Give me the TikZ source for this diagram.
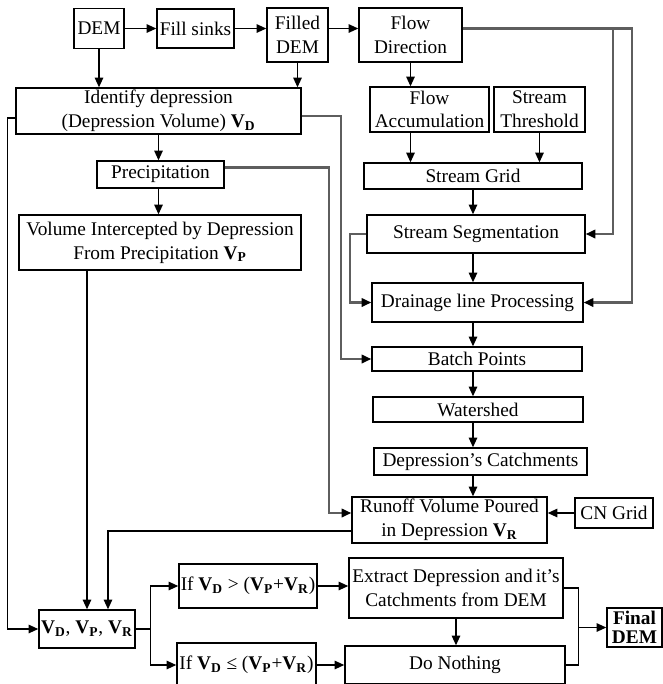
\documentclass[tikz,border=0pt]{standalone}
\usepackage{fontspec}
\setmainfont{Liberation Serif}
\usetikzlibrary{arrows.meta,calc}
\definecolor{linegrey}{HTML}{5E5E5E}
\newcommand{\vsub}[1]{\textbf{V}\textsubscript{\textbf{#1}}}
\tikzset{
  blk/.style      = {draw=black, line width=0.8pt, fill=white, align=center,
                     inner sep=0pt, font=\fontsize{11}{13.5}\selectfont},
  sz/.style 2 args = {minimum width=#1*0.02cm, minimum height=#2*0.02cm},
  flow/.style     = {-{Triangle[length=5.5pt,width=4.8pt]}, draw=black, line width=0.8pt},
  flowgrey/.style = {-{Triangle[length=5.5pt,width=4.8pt,color=black]}, draw=linegrey, line width=1.2pt},
  wire/.style     = {draw=black, line width=0.8pt},
}

\begin{document}
\begin{tikzpicture}[x=0.02cm, y=-0.02cm]
  \useasboundingbox (0,0) rectangle (663,684);
  % top row
  \node[blk, sz={50}{40}] (dem) at (99,28.5) {DEM};
  \node[blk, sz={77}{39}] (fill) at (195.5,28.5) {Fill sinks};
  \node[blk, sz={61}{54}] (filled) at (297.5,35) {Filled\\DEM};
  \node[blk, sz={103}{54}] (flowdir) at (410.5,35) {Flow\\Direction};
  % left branch
  \node[blk, sz={285}{46}] (identify) at (158.5,111) {Identify depression\\(Depression Volume) \vsub{D}};
  \node[blk, sz={127}{27}] (precip) at (160.5,174.5) {Precipitation};
  \node[blk, sz={282}{55}] (volint) at (160,242.5) {Volume Intercepted by Depression\\From Precipitation \vsub{P}};
  % right branch
  \node[blk, sz={119}{45}] (flowacc) at (429.5,109.5) {Flow\\Accumulation};
  \node[blk, sz={91}{45}] (thresh) at (539.5,109.5) {Stream\\Threshold};
  \node[blk, sz={218}{26}] (sgrid) at (473,176) {Stream Grid};
  \node[blk, sz={218}{38}] (sseg) at (476,234) {Stream Segmentation};
  \node[blk, sz={211}{39}] (drain) at (477.5,302.5) {Drainage line Processing};
  \node[blk, sz={210}{24}] (batch) at (477,359) {Batch Points};
  \node[blk, sz={210}{25}] (wshed) at (478,409.5) {Watershed};
  \node[blk, sz={213}{27}] (catch) at (480.5,461.5) {Depression’s Catchments};
  \node[blk, sz={195}{46}] (runoff) at (449.5,520) {Runoff Volume Poured\\in Depression \vsub{R}};
  \node[blk, sz={78}{30}] (cngrid) at (614,513) {CN Grid};
  % decision part
  \node[blk, sz={96}{38}] (vbox) at (87,629) {\vsub{D}, \vsub{P}, \vsub{R}};
  \node[blk, sz={138}{44}] (ifgt) at (248,586) {If \vsub{D} > (\vsub{P}+\vsub{R})};
  \node[blk, sz={139}{44}] (ifle) at (246.5,665) {If \vsub{D} ≤ (\vsub{P}+\vsub{R})};
  \node[blk, sz={214}{60}] (extract) at (456,588) {Extract Depression and\,it’s\\Catchments from DEM};
  \node[blk, sz={220}{38}] (nothing) at (455,665) {Do Nothing};
  \node[blk, sz={55}{39}, font=\fontsize{11}{11}\selectfont\bfseries] (final) at (634.5,627.5) {Final\\DEM};

  \coordinate (busA) at (632,28.5);
  \coordinate (busB) at (613,28.5);

  % top row links
  \draw[flow] (dem.east) -- (dem.east -| fill.west);
  \draw[flow] (fill.east) -- (fill.east -| filled.west);
  \draw[flow] (fill.east -| filled.east) -- (fill.east -| flowdir.west);
  \draw[flow] (dem.south) -- (dem.south |- identify.north);
  \draw[flow] (filled.south) -- (filled.south |- identify.north);
  \draw[flow] (flowdir.south) -- (flowdir.south |- flowacc.north);
  \draw[flowgrey] (fill.east -| flowdir.east) -- (busA) |- (drain.east);
  \draw[flowgrey] (busB) |- (sseg.east);
  % stream chain
  \draw[flow] (flowdir.south |- flowacc.south) -- (flowdir.south |- sgrid.north);
  \draw[flow] (thresh.south) -- (thresh.south |- sgrid.north);
  \draw[flow] (sgrid.south) -- (sgrid.south |- sseg.north);
  \draw[flow] (sgrid.south |- sseg.south) -- (sgrid.south |- drain.north);
  \draw[flowgrey] (sseg.west) -- ++(-16,0) |- (drain.west);
  \draw[flow] (sgrid.south |- drain.south) -- (sgrid.south |- batch.north);
  \draw[flowgrey] ([yshift=-0.1cm]identify.east) -- ++(39,0) |- (batch.west);
  \draw[flow] (sgrid.south |- batch.south) -- (sgrid.south |- wshed.north);
  \draw[flow] (sgrid.south |- wshed.south) -- (sgrid.south |- catch.north);
  \draw[flow] (sgrid.south |- catch.south) -- (sgrid.south |- runoff.north);
  \draw[flow] (cngrid.west) -- (cngrid.west -| runoff.east);
  % left chain
  \draw[flow] (identify.south) -- (identify.south |- precip.north);
  \draw[flow] (identify.south |- precip.south) -- (identify.south |- volint.north);
  \draw[flowgrey] ([yshift=0.14cm]precip.east) -- ++(104,0) |- ([yshift=0.14cm]runoff.west);
  \draw[flow] ([yshift=-0.14cm]identify.west) -- ++(-8,0) |- (vbox.west);
  \draw[flow] (vbox.north |- volint.south) -- (vbox.north);
  \draw[flow] ([yshift=-0.22cm]runoff.west) -| ([xshift=0.42cm]vbox.north);
  % decision
  \draw[wire] (vbox.east) -- ++(15,0) coordinate (split);
  \draw[flow] (split) |- (ifgt.west);
  \draw[flow] (split) |- (ifle.west);
  \draw[flow] (ifgt.east) -- (ifgt.east -| extract.west);
  \draw[flow] (ifle.east) -- (ifle.east -| nothing.west);
  \draw[flow] (extract.south) -- (extract.south |- nothing.north);
  \draw[wire] (extract.east) -- ++(15,0) coordinate (join) |- (nothing.east);
  \draw[flow] (join |- final.west) -- (final.west);
\end{tikzpicture}
\end{document}
